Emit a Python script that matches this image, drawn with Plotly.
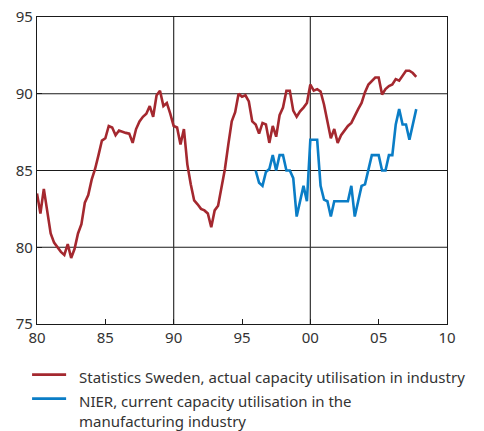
import plotly.graph_objects as go

# Statistics Sweden, quarterly 1980Q1-2007Q4
red_years = list(range(1980, 2008))
red_values = [
    83.5, 82.2, 83.8, 82.4,
    80.9, 80.3, 80.0, 79.7,
    79.5, 80.2, 79.3, 79.9,
    80.9, 81.5, 82.9, 83.4,
    84.4, 85.1, 86.0, 86.95,
    87.1, 87.9, 87.8, 87.3,
    87.6, 87.5, 87.45, 87.4,
    86.8, 87.7, 88.2, 88.5,
    88.7, 89.2, 88.5, 89.9,
    90.2, 89.2, 89.4, 88.7,
    87.9, 87.8, 86.7, 87.7,
    85.4, 84.1, 83.05, 82.8,
    82.5, 82.4, 82.2, 81.3,
    82.4, 82.7, 83.8, 85.1,
    86.7, 88.2, 88.8, 90.0,
    89.8, 89.9, 89.5, 88.2,
    88.0, 87.4, 88.1, 88.0,
    86.8, 87.9, 87.2, 88.6,
    89.1, 90.2, 90.2, 88.9,
    88.5, 88.85, 89.1, 89.4,
    90.6, 90.2, 90.3, 90.15,
    89.3, 88.1, 87.1, 87.7,
    86.8, 87.3, 87.6, 87.9,
    88.1, 88.6, 89.0, 89.4,
    90.1, 90.6, 90.8, 91.06,
    91.06, 89.95, 90.3, 90.5,
    90.6, 90.95, 90.85, 91.2,
    91.5, 91.5, 91.35, 91.1,
]

# NIER, quarterly 1996Q1-2007Q4
blue_years = list(range(1996, 2008))
blue_values = [
    85.0, 84.2, 84.0, 84.9,
    85.1, 86.0, 85.0, 86.0,
    86.0, 85.0, 85.0, 84.5,
    82.0, 83.0, 84.0, 83.0,
    87.0, 87.0, 87.0, 84.0,
    83.1, 83.0, 82.0, 83.0,
    83.0, 83.0, 83.0, 83.0,
    84.0, 82.0, 83.0, 84.0,
    84.1, 85.0, 86.0, 86.0,
    86.0, 85.0, 85.0, 86.0,
    86.0, 88.0, 89.0, 88.0,
    88.0, 87.0, 88.0, 89.0,
]

x_tick_vals = [1980, 1985, 1990, 1995, 2000, 2005, 2010]
x_tick_text = ["80", "85", "90", "95", "00", "05", "10"]
y_tick_vals = [75, 80, 85, 90, 95]

red_label = "Statistics Sweden, actual capacity utilisation in industry"
blue_label = "NIER, current capacity utilisation in the<br>manufacturing industry"

RED = "#A4282F"
BLUE = "#0A7DC6"


def quarter_x(years):
    return [y + q / 4 for y in years for q in range(4)]


red_x = quarter_x(red_years)
blue_x = quarter_x(blue_years)

FONT = "Noto Sans"
TXT = "#333333"
fig = go.Figure()
fig.add_trace(go.Scatter(x=red_x, y=red_values, mode="lines", name=red_label,
                         line=dict(color=RED, width=2.6), showlegend=False))
fig.add_trace(go.Scatter(x=blue_x, y=blue_values, mode="lines", name=blue_label,
                         line=dict(color=BLUE, width=2.6), showlegend=False))

# gridlines
for v in [80, 85, 90]:
    fig.add_shape(type="line", xref="paper", yref="y", x0=0, x1=1, y0=v, y1=v,
                  line=dict(color="#1a1a1a", width=1.2), layer="below")
for v in [1990, 2000]:
    fig.add_shape(type="line", xref="x", yref="paper", x0=v, x1=v, y0=0, y1=1,
                  line=dict(color="#333333", width=1.2), layer="below")

# manual legend below the plot (paper coordinates)
legend_rows = [(red_label, RED, -0.165), (blue_label, BLUE, -0.243)]
for label, color, yy in legend_rows:
    fig.add_shape(type="line", xref="paper", yref="paper",
                  x0=-0.012, x1=0.071, y0=yy, y1=yy,
                  line=dict(color=color, width=2.6))
    fig.add_annotation(xref="paper", yref="paper", x=0.097, y=yy + 0.032,
                       xanchor="left", yanchor="top", align="left",
                       text=label, showarrow=False,
                       font=dict(family=FONT, size=15, color=TXT))

fig.update_layout(
    width=484, height=431,
    margin=dict(l=37, r=37, t=17, b=107, autoexpand=False),
    paper_bgcolor="white", plot_bgcolor="white",
    font=dict(family=FONT, size=15, color=TXT),
    showlegend=False,
)
fig.update_xaxes(
    range=[1980, 2010], tickvals=x_tick_vals, ticktext=x_tick_text,
    showgrid=False, zeroline=False, showline=True, mirror=True,
    linecolor="#1a1a1a", linewidth=1.2, ticks="inside", ticklen=5,
    tickcolor="#1a1a1a", tickfont=dict(family=FONT, size=15, color=TXT),
    ticklabeloverflow="allow",
)
fig.update_yaxes(
    range=[75, 95], tickvals=y_tick_vals,
    showgrid=False, zeroline=False, showline=True, mirror=True,
    linecolor="#1a1a1a", linewidth=1.2, ticks="inside", ticklen=5,
    tickcolor="#1a1a1a", tickfont=dict(family=FONT, size=15, color=TXT),
    ticklabeloverflow="allow",
)

fig.write_html(
    "out.html",
    config={"displayModeBar": False},
    post_script="document.body.style.margin='0';document.body.style.overflow='hidden';",
)
